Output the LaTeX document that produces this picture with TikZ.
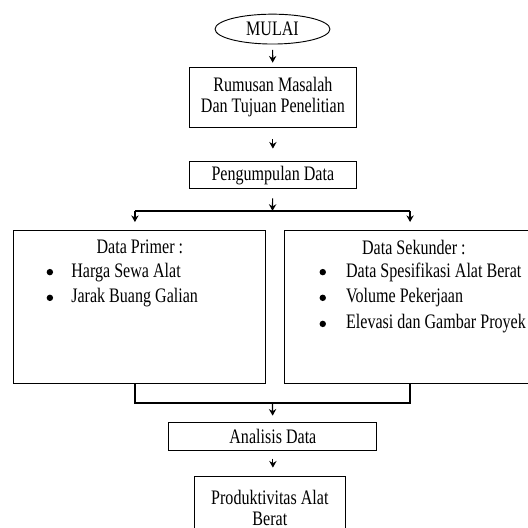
\documentclass[tikz,border=0pt]{standalone}
\usepackage{fontspec}
\setmainfont{Liberation Serif}[FakeStretch=0.78]
\usetikzlibrary{positioning,calc,shapes.geometric,arrows.meta}

\tikzset{
  txt/.style={font=\fontsize{15.5}{15.75}\selectfont},
  itemtxt/.style={txt,anchor=west,inner sep=0pt},
  flowbox/.style={draw,txt,line width=0.7pt,inner sep=0pt,align=center},
  bigbox/.style={draw,line width=0.7pt,inner sep=0pt},
  arr/.style={line width=0.9pt,-{Stealth[length=5pt,width=5.5pt]}},
  branch/.style={line width=1.3pt}
}

\begin{document}
\begin{tikzpicture}
   \useasboundingbox (0,0) rectangle (13.97,-13.97);

   \node[draw,ellipse,txt,line width=0.7pt,minimum width=3.04cm,minimum height=0.79cm,inner sep=0pt] at (7.21,-0.77) (mulai) {MULAI};
   \node[flowbox,minimum width=4.42cm,minimum height=1.58cm] at (7.22,-2.57) (rumusan) {Rumusan Masalah\\Dan Tujuan Penelitian};
   \node[flowbox,minimum width=4.42cm,minimum height=0.71cm] at (7.22,-4.64) (kumpul) {Pengumpulan Data};

   \node[bigbox,minimum width=6.67cm,minimum height=4.07cm] at (3.70,-8.12) (primer) {};
   \node[bigbox,minimum width=6.83cm,minimum height=4.07cm] at (10.95,-8.12) (sekunder) {};

   \node[txt] at (3.70,-6.54) (primertitle) {Data Primer :};
   \node[itemtxt] at (1.88,-7.20) (harga) {Harga Sewa Alat};
   \node[itemtxt] at (1.88,-7.88) (jarak) {Jarak Buang Galian};

   \node[txt] at (10.95,-6.54) (sekundertitle) {Data Sekunder :};
   \node[itemtxt] at (9.15,-7.20) (spek) {Data Spesifikasi Alat Berat};
   \node[itemtxt] at (9.15,-7.88) (volume) {Volume Pekerjaan};
   \node[itemtxt] at (9.15,-8.57) (elevasi) {Elevasi dan Gambar Proyek};

   % bullets
   \foreach \n in {harga,jarak}
      \fill ([xshift=-0.56cm]\n.west) circle (0.085cm);
   \foreach \n in {spek,volume,elevasi}
      \fill ([xshift=-0.61cm]\n.west) circle (0.085cm);

   \node[flowbox,minimum width=5.50cm,minimum height=0.74cm] at (7.22,-11.54) (analisis) {Analisis Data};
   \node[flowbox,minimum width=4.0cm,minimum height=1.69cm] at (7.14,-13.44) (produk) {Produktivitas Alat\\Berat};

   % branch points
   \coordinate (split) at (7.21,-5.58);
   \coordinate (lin) at (3.57,-6.085);
   \coordinate (rin) at (10.85,-6.085);
   \coordinate (lout) at (3.57,-10.155);
   \coordinate (rout) at (10.85,-10.155);
   \coordinate (join) at (7.21,-10.66);

   \draw[arr,shorten <=0.14cm,shorten >=0.11cm] (mulai) -- (rumusan);
   \draw[arr,shorten <=0.30cm,shorten >=0.34cm] (rumusan) -- (kumpul);
   \draw[arr,shorten <=0.24cm] (kumpul) -- (split);
   \draw[branch] (lin |- split) -- (rin |- split);
   \draw[arr,shorten >=0.21cm] (lin |- split) -- (lin);
   \draw[arr,shorten >=0.21cm] (rin |- split) -- (rin);

   \draw[branch] (lout) |- (join) -| (rout);
   \draw[arr,shorten >=0.16cm] (join) -- (analisis);
   \draw[arr,shorten <=0.21cm,shorten >=0.21cm] (analisis) -- (analisis |- produk.north);
\end{tikzpicture}
\end{document}
